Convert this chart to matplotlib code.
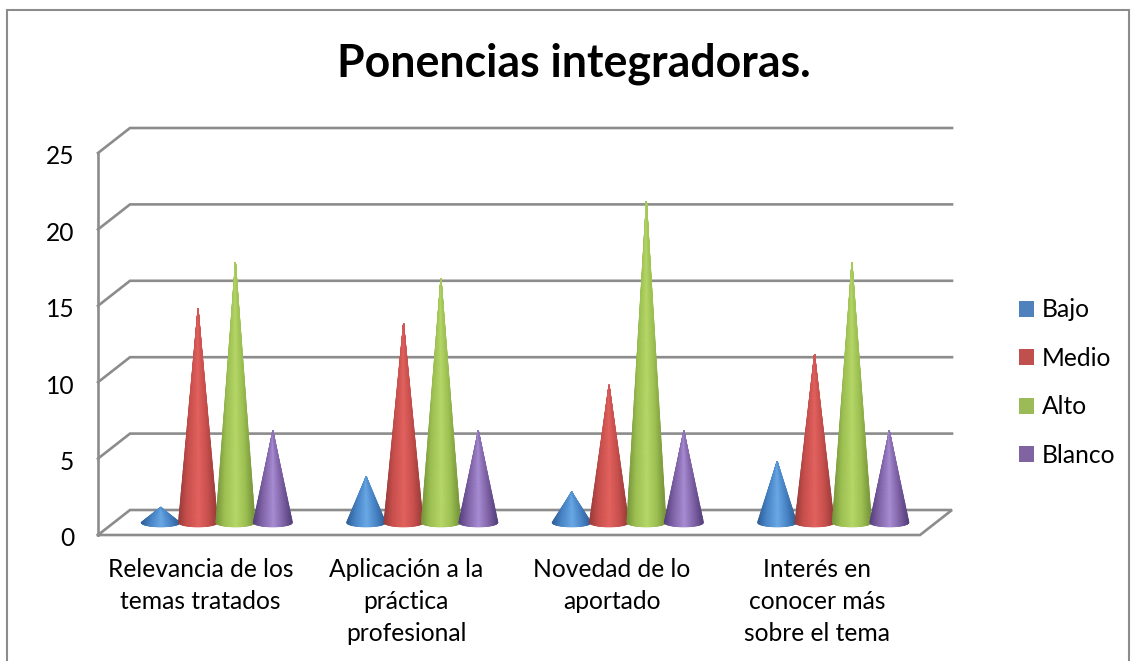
import numpy as np
import matplotlib.pyplot as plt
from matplotlib.colors import LinearSegmentedColormap
from matplotlib.patches import Patch, Rectangle
from matplotlib.transforms import ScaledTranslation

categories = [
    "Relevancia de los\ntemas tratados",
    "Aplicación a la\npráctica\nprofesional",
    "Novedad de lo\naportado",
    "Interés en\nconocer más\nsobre el tema",
]
series_names = ["Bajo", "Medio", "Alto", "Blanco"]
bajo = [1, 3, 2, 4]
medio = [14, 13, 9, 11]
alto = [17, 16, 21, 17]
blanco = [6, 6, 6, 6]
y_ticks = [0, 5, 10, 15, 20, 25]

legend_colors = ["#4f81bd", "#c0504d", "#9bbb59", "#8064a2"]
# edge, body, highlight of each cone
cone_colors = [
    ("#2f5f96", "#4a86c8", "#6aa9e6"),
    ("#983c3a", "#c9504d", "#e2625f"),
    ("#76933a", "#9dc052", "#b6d768"),
    ("#55407c", "#8164a8", "#a88dd4"),
]

W, H = 1131, 661
plt.rcParams["font.family"] = ["Lato", "DejaVu Sans"]

fig = plt.figure(figsize=(W / 100, H / 100), dpi=100)
ax = fig.add_axes([98 / W, (H - 535) / H, 822 / W, 382 / H])
ax.set_xlim(0, 4)
ax.set_ylim(0, 25)

# depth of the fake 3d box, in data units
px_x = 4 / 822
px_y = 25 / 382
depth_x = 32 * px_x
depth_y = 25 * px_y
grey = "#8c8c8c"

for t in y_ticks:
    if t == 0:
        xs = [0, depth_x, 4 + depth_x, 4, 0]
        ys = [0, depth_y, depth_y, 0, 0]
    else:
        xs = [0, depth_x, 4 + depth_x]
        ys = [t, t + depth_y, t + depth_y]
    ax.plot(xs, ys, color=grey, lw=1.9, clip_on=False, solid_joinstyle="miter", zorder=1)
ax.plot([0, 0], [0, 25], color=grey, lw=1.9, clip_on=False, zorder=1)

# cones, drawn as a mesh so the shading narrows with the cone
radius = 19.5 * px_x
spacing = 37.4 * px_x
ell_h = 4.3 * px_y
base_y = depth_y / 2

u = np.linspace(-1, 1, 61)
t = np.linspace(0, 1, 30)
uu, tt = np.meshgrid(u, t)
# the dark rim fades out towards the tip
shade = 0.5 + uu / 2 * (1 - 0.65 * tt)

values = [bajo, medio, alto, blanco]
z = 3
for c in range(len(categories)):
    center = c + 0.5 + depth_x / 2
    for s, vals in enumerate(values):
        cx = center + (s - 1.5) * spacing
        edge, body, light = cone_colors[s]
        cmap = LinearSegmentedColormap.from_list(
            "cone",
            [(0, edge), (0.22, body), (0.52, light), (0.78, body), (1, edge)],
        )
        xx = cx + radius * uu * (1 - tt)
        yy = base_y - ell_h * np.sqrt(1 - uu ** 2) * (1 - tt) + vals[c] * tt
        ax.pcolormesh(xx, yy, shade, cmap=cmap, shading="gouraud",
                      vmin=0, vmax=1, zorder=z)
        z += 1

ax.set_xlim(0, 4)
ax.set_ylim(0, 25)
ax.patch.set_visible(False)
for sp in ax.spines.values():
    sp.set_visible(False)

ax.set_yticks(y_ticks)
ax.set_yticklabels([str(v) for v in y_ticks], fontsize=17.7)
ax.set_xticks([0.5, 1.5, 2.5, 3.5])
ax.set_xticklabels(categories, fontsize=17.7, linespacing=1.47)
ax.tick_params(axis="both", length=0, colors="black")
ax.tick_params(axis="y", pad=17)
ax.tick_params(axis="x", pad=16.5)
for label in ax.get_yticklabels():
    label.set_transform(label.get_transform() + ScaledTranslation(0, -2 / 100, fig.dpi_scale_trans))

fig.text(574 / W, 1 - 64 / H, "Ponencias integradoras.", fontsize=32.1, fontweight="bold",
         ha="center", va="center")

handles = [Patch(fc=col, ec="none") for col in legend_colors]
fig.legend(
    handles,
    series_names,
    loc="center left",
    bbox_to_anchor=(1019 / W, 1 - 382.5 / H),
    frameon=False,
    fontsize=17.7,
    labelspacing=1.037,
    handlelength=0.62,
    handleheight=0.62,
    handletextpad=0.3,
    borderpad=0,
    borderaxespad=0,
)

# outer chart border
fig.add_artist(Rectangle((6.5 / W, -0.02), 1122 / W, 1.02 - 10 / H, transform=fig.transFigure,
                         fc="none", ec=grey, lw=1.5))

fig.savefig("out.png", dpi=100)
